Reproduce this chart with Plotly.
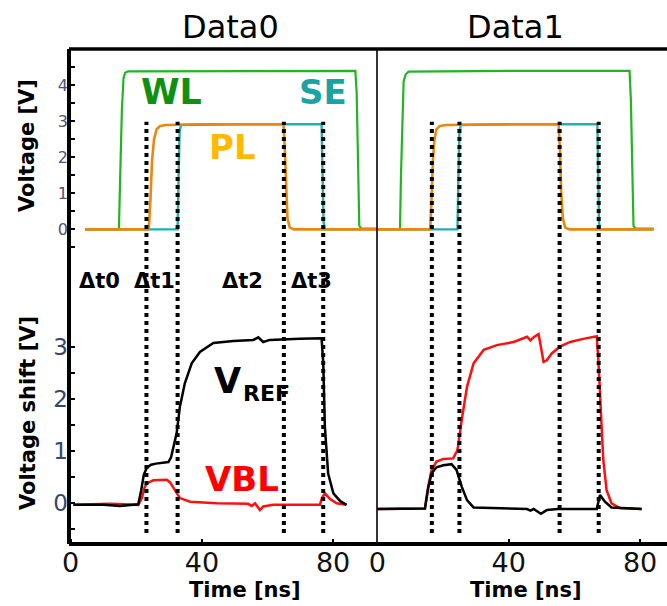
import plotly.graph_objects as go

# ---------------- data (time in ns, voltage in V) ----------------
# Data0 - top panel
WL0_t = [4.4, 14.7, 15.1, 15.6, 16.1, 16.6, 17.5, 50, 86.8, 87.2, 87.6, 88.0, 88.6, 93.4]
WL0_v = [0.0, 0.0, 1.5, 3.3, 4.2, 4.35, 4.39, 4.40, 4.40, 3.8, 1.5, 0.1, 0.02, 0.02]
SE0_t = [4.4, 32.6, 32.9, 33.2, 33.6, 50, 76.5, 76.8, 77.1, 77.5, 93.4]
SE0_v = [0.0, 0.0, 1.5, 2.7, 2.9, 2.92, 2.92, 1.5, 0.2, 0.0, 0.0]
PL0_t = [4.4, 23.8, 24.3, 24.8, 25.4, 26.2, 27.3, 29, 40, 64.9, 65.3, 65.7, 66.1, 66.8, 68, 93.4]
PL0_v = [0.0, 0.0, 0.8, 1.9, 2.5, 2.78, 2.87, 2.9, 2.92, 2.92, 2.2, 1.0, 0.3, 0.05, 0.0, 0.0]
# Data1 - top panel
WL1_t = [0, 6.9, 7.2, 7.6, 8.0, 8.6, 9.5, 40, 76.8, 77.2, 77.6, 78.0, 78.5, 84.1]
WL1_v = [0.0, 0.0, 1.5, 3.3, 4.1, 4.3, 4.38, 4.40, 4.40, 3.6, 1.5, 0.1, 0.02, 0.02]
SE1_t = [0, 24.4, 24.7, 25.0, 25.4, 40, 67.0, 67.2, 67.5, 67.8, 84.1]
SE1_v = [0.0, 0.0, 1.5, 2.7, 2.9, 2.92, 2.92, 1.5, 0.2, 0.0, 0.0]
PL1_t = [0, 16.1, 16.5, 16.9, 17.4, 18.0, 19.0, 21, 40, 55.2, 55.6, 56.0, 56.5, 57.2, 58.5, 84.1]
PL1_v = [0.0, 0.0, 0.8, 1.9, 2.5, 2.78, 2.87, 2.9, 2.92, 2.92, 2.2, 1.0, 0.3, 0.05, 0.0, 0.0]

# Data0 - bottom panel
VREF0_t = [0.8, 10, 15, 20.6, 21.5, 22.3, 23.2, 24.5, 26, 29.8, 30.6, 31.3, 32.3, 33.3, 34.8, 36.9,
           39.4, 43.5, 49.6, 55.7, 57.2, 58.7, 60.7, 69.8, 76.5, 77.0, 77.5, 78.5, 80.1, 82.2, 84.1]
VREF0_v = [-0.03, -0.03, -0.05, -0.02, 0.25, 0.55, 0.68, 0.74, 0.76, 0.79, 0.88, 1.08, 1.34, 1.85, 2.3, 2.68,
           2.9, 3.07, 3.11, 3.13, 3.18, 3.09, 3.13, 3.15, 3.16, 2.7, 1.47, 0.57, 0.19, 0.04, -0.03]
VBL0_t = [0.8, 12, 20.6, 21.7, 22.5, 23.2, 25.2, 29.3, 30.3, 31.8, 33.3, 36.4, 44.5, 54.1, 55.2, 56.2,
          57.7, 58.7, 61.8, 76.0, 76.6, 77.5, 79.1, 81.1, 84.1]
VBL0_v = [-0.03, -0.01, -0.03, 0.1, 0.3, 0.38, 0.44, 0.45, 0.4, 0.25, 0.1, 0.03, 0.0, -0.01, -0.05, 0.0,
          -0.13, -0.06, -0.03, -0.03, 0.1, 0.19, 0.08, 0.0, -0.03]
# Data1 - bottom panel
VBL1_t = [0, 10, 14.5, 15.5, 16.5, 18.0, 20.1, 23.1, 24.4, 25.7, 27.3, 29.3, 32.4, 36.4, 41.5, 45.6,
          46.6, 47.6, 49.1, 49.8, 50.6, 51.6, 53.1, 55.6, 58.7, 62.7, 66.8, 67.3, 68.0, 68.8, 69.8,
          71.3, 73.9, 80.5]
VBL1_v = [-0.11, -0.11, -0.1, 0.32, 0.63, 0.8, 0.85, 0.86, 1.02, 1.6, 2.23, 2.68, 2.94, 3.03, 3.09, 3.19,
          3.12, 3.18, 3.24, 3.0, 2.71, 2.74, 2.87, 3.0, 3.09, 3.15, 3.2, 2.74, 1.79, 0.83, 0.25,
          0.0, -0.09, -0.11]
VREF1_t = [0, 10, 14.5, 15.5, 16.5, 18.0, 20.1, 22.6, 24.1, 25.7, 27.3, 29.3, 37, 45.6, 46.6, 47.6,
           49.8, 51.6, 55, 66.8, 67.8, 69.3, 71.3, 80.5]
VREF1_v = [-0.11, -0.11, -0.1, 0.3, 0.57, 0.69, 0.73, 0.75, 0.64, 0.32, 0.06, -0.08, -0.09, -0.11, -0.14, -0.11,
           -0.2, -0.13, -0.11, -0.11, 0.16, 0.03, -0.08, -0.11]

# phase boundaries (dotted lines)
DT0 = [23.1, 32.6, 65.0, 77.0]
DT1 = [16.6, 25.0, 55.5, 67.4]
DT_LABELS = ["Δt0", "Δt1", "Δt2", "Δt3"]
DT_LABEL_T = [8.8, 25.4, 52.3, 73.5]

TITLES = ["Data0", "Data1"]
X_TICKS = [0, 40, 80]
TOP_TICKS = [-0.5, 0, 0.5, 1, 1.5, 2, 2.5, 3, 3.5, 4, 4.5]
TOP_TICKTEXT = ["", "0", "", "1", "", "2", "", "3", "", "4", ""]
BOT_TICKS = [-0.5, 0, 0.5, 1, 1.5, 2, 2.5, 3]
BOT_TICKTEXT = ["", "0", "", "1", "", "2", "", "3"]

# ---------------- styling ----------------
C_WL, C_SE, C_PL = "#22b422", "#1fb0b0", "#e8880f"
T_WL, T_SE, T_PL = "#109010", "#1aa3a3", "#ffba00"
FONT = "DejaVu Sans"

W, H = 667, 606
ML, MR, MT, MB = 69, 0, 49, 62
PW, PH = W - ML - MR, H - MT - MB
SPLIT_X = (377 - ML) / PW
SPLIT_Y = (544 - 265) / PH


def P(x, y):
    return (x - ML) / PW, (H - MB - y) / PH


fig = go.Figure()

def line(t, v, xa, ya, color, width):
    fig.add_trace(go.Scatter(x=t, y=v, mode="lines", xaxis=xa, yaxis=ya,
                             line=dict(color=color, width=width), showlegend=False,
                             hoverinfo="skip", cliponaxis=True))

# top panels: x3/y3 (left), x4/y4 (right)
line(WL0_t, WL0_v, "x3", "y3", C_WL, 2.2)
line(SE0_t, SE0_v, "x3", "y3", C_SE, 2.4)
line(PL0_t, PL0_v, "x3", "y3", C_PL, 2.6)
line(WL1_t, WL1_v, "x4", "y4", C_WL, 2.2)
line(SE1_t, SE1_v, "x4", "y4", C_SE, 2.4)
line(PL1_t, PL1_v, "x4", "y4", C_PL, 2.6)
# bottom panels: x/y (left), x2/y2 (right)
line(VBL0_t, VBL0_v, "x", "y", "#ff1010", 2.5)
line(VREF0_t, VREF0_v, "x", "y", "#000000", 2.5)
line(VBL1_t, VBL1_v, "x2", "y2", "#ff1010", 2.5)
line(VREF1_t, VREF1_v, "x2", "y2", "#000000", 2.5)

shapes = []
y_top, y_bot = P(0, 121.7)[1], P(0, 533)[1]
for xa, dts in (("x", DT0), ("x2", DT1)):
    for t in dts:
        shapes.append(dict(type="line", xref=xa, yref="paper", x0=t, x1=t, y0=y_bot, y1=y_top,
                           line=dict(color="black", width=4, dash="dot"), layer="above"))
# frame
shapes += [
    dict(type="line", xref="paper", yref="paper", x0=0, x1=0, y0=0, y1=1, line=dict(color="black", width=4)),
    dict(type="line", xref="paper", yref="paper", x0=0, x1=1, y0=1, y1=1, line=dict(color="black", width=3.5)),
    dict(type="line", xref="paper", yref="paper", x0=0, x1=1, y0=0, y1=0, line=dict(color="black", width=4)),
    dict(type="line", xref="paper", yref="paper", x0=SPLIT_X, x1=SPLIT_X, y0=0, y1=1,
         line=dict(color="black", width=1.6)),
]

ann = []
def text(x, y, s, size, color="black", bold=True, angle=0):
    px, py = P(x, y)
    ann.append(dict(x=px, y=py, xref="paper", yref="paper", text=(f"<b>{s}</b>" if bold else s),
                    showarrow=False, xanchor="center", yanchor="middle", textangle=angle,
                    font=dict(family=FONT, size=size, color=color)))

text(230, 27, TITLES[0], 32, bold=False)
text(515, 27, TITLES[1], 32, bold=False)
text(27, 146, "Voltage [V]", 21, angle=-90)
text(28, 413, "Voltage shift [V]", 21, angle=-90)
text(245, 590, "Time [ns]", 21)
text(526, 590, "Time [ns]", 21)
text(171, 92, "WL", 35, T_WL)
text(323, 92, "SE", 34, T_SE)
text(232, 147, "PL", 34, T_PL)
text(242, 479, "VBL", 34, "#ff0000")
text(227, 381, "V", 35)
text(266, 393, "REF", 22)
for lab, t in zip(DT_LABELS, DT_LABEL_T):
    x_px = ML + (t + 0.52) * (377 - ML) / 93.92
    text(x_px, 281, lab, 21)

x_common = dict(showgrid=False, zeroline=False, showline=False, tickvals=X_TICKS,
                ticks="inside", ticklen=5, tickwidth=1.5, tickcolor="black",
                tickfont=dict(family=FONT, size=27, color="#111111"))
hidden_x = dict(showgrid=False, zeroline=False, showline=False, showticklabels=False, ticks="")
y_hidden = dict(showgrid=False, zeroline=False, showline=False, showticklabels=False, ticks="")

fig.update_layout(
    width=W, height=H, margin=dict(l=ML, r=MR, t=MT, b=MB),
    paper_bgcolor="white", plot_bgcolor="white",
    xaxis=dict(domain=[0, SPLIT_X], range=[-0.52, 93.4], anchor="y", **x_common),
    xaxis2=dict(domain=[SPLIT_X, 1], range=[-0.1, 88.2], anchor="y2", **x_common),
    xaxis3=dict(domain=[0, SPLIT_X], range=[-0.52, 93.4], anchor="y3", **hidden_x),
    xaxis4=dict(domain=[SPLIT_X, 1], range=[-0.1, 88.2], anchor="y4", **hidden_x),
    yaxis=dict(domain=[0, SPLIT_Y], range=[-0.78, 4.565], anchor="x", showgrid=False, zeroline=False,
               showline=False, tickvals=BOT_TICKS, ticktext=BOT_TICKTEXT, ticks="inside", ticklen=6,
               tickwidth=1.5, tickcolor="black",
               tickfont=dict(family=FONT, size=23, color="#34486e")),
    yaxis2=dict(domain=[0, SPLIT_Y], range=[-0.78, 4.565], anchor="x2", **y_hidden),
    yaxis3=dict(domain=[SPLIT_Y, 1], range=[-0.99, 5.01], anchor="x3", showgrid=False, zeroline=False,
                showline=False, tickvals=TOP_TICKS, ticktext=TOP_TICKTEXT, ticks="inside", ticklen=6,
                tickwidth=1.5, tickcolor="black",
                tickfont=dict(family=FONT, size=16, color="#4b5870")),
    yaxis4=dict(domain=[SPLIT_Y, 1], range=[-0.99, 5.01], anchor="x4", **y_hidden),
    shapes=shapes, annotations=ann,
)

fig.write_html("out.html")
